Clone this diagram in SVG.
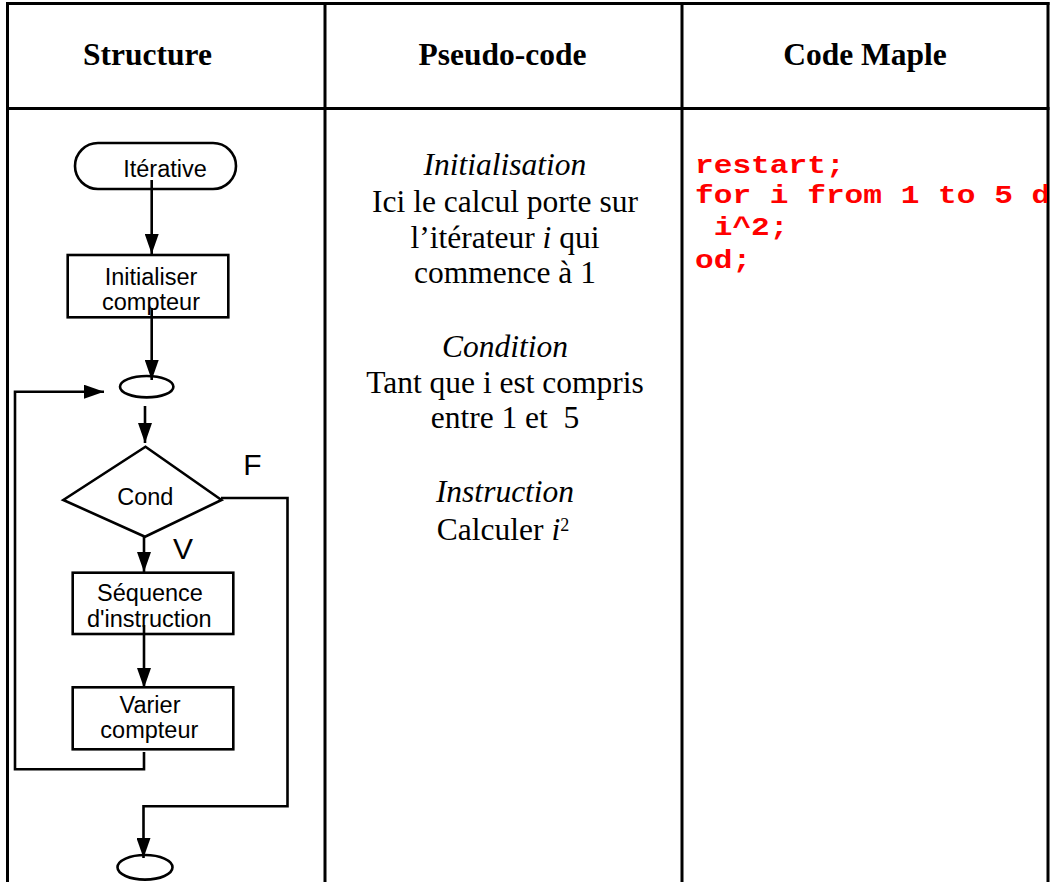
<svg xmlns="http://www.w3.org/2000/svg" width="1050" height="882" viewBox="0 0 1050 882">
<style>
.grid{stroke:#000;stroke-width:3;fill:none}
.shape{stroke:#000;stroke-width:2.6;fill:#fff}
.conn{stroke:#000;stroke-width:2.6;fill:none}
.hd{font-family:"Liberation Serif","Times New Roman",serif;font-weight:bold;font-size:31.5px;text-anchor:middle}
.ps{font-family:"Liberation Serif","Times New Roman",serif;font-size:31.5px;text-anchor:middle}
.it{font-style:italic}
.fc{font-family:"Liberation Sans",Arial,sans-serif;font-size:23.5px;text-anchor:middle}
.lb{font-family:"Liberation Sans",Arial,sans-serif;font-size:30px;text-anchor:middle}
.code{font-family:"Liberation Mono","Courier New",monospace;font-weight:bold;font-size:25px;fill:#ff0000}
</style>
<defs>
<marker id="ah" markerUnits="userSpaceOnUse" markerWidth="20" markerHeight="14" refX="20" refY="7" orient="auto">
<path d="M0,0 L20,7 L0,14 z" fill="#000"/>
</marker>
<clipPath id="cell3"><rect x="683" y="110" width="364" height="772"/></clipPath>
</defs>
<g id="table">
<line class="grid" x1="6" y1="3.5" x2="1049.5" y2="3.5"/>
<line class="grid" x1="6" y1="108.5" x2="1049.5" y2="108.5"/>
<line class="grid" x1="7.5" y1="2" x2="7.5" y2="882"/>
<line class="grid" x1="325" y1="2" x2="325" y2="882"/>
<line class="grid" x1="682" y1="2" x2="682" y2="882"/>
<line class="grid" x1="1048" y1="2" x2="1048" y2="882"/>
<text class="hd" x="147.5" y="65">Structure</text>
<text class="hd" x="502.5" y="65">Pseudo-code</text>
<text class="hd" x="865" y="65">Code Maple</text>
</g>
<g id="pseudocode">
<text class="ps it" x="505" y="175">Initialisation</text>
<text class="ps" x="505" y="211.7">Ici le calcul porte sur</text>
<text class="ps" x="505" y="248.3">l’itérateur <tspan class="it">i</tspan> qui</text>
<text class="ps" x="505" y="283.3">commence à 1</text>
<text class="ps it" x="505" y="356.7">Condition</text>
<text class="ps" x="505" y="393.3">Tant que i est compris</text>
<text class="ps" x="505" y="428.3" xml:space="preserve">entre 1 et  5</text>
<text class="ps it" x="505" y="501.7">Instruction</text>
<text class="ps" x="503" y="540">Calculer <tspan class="it">i</tspan><tspan font-size="18" dy="-9">2</tspan></text>
</g>
<g id="maple" clip-path="url(#cell3)">
<text class="code" x="695" y="172.7" textLength="149.6" lengthAdjust="spacingAndGlyphs">restart;</text>
<text class="code" x="695" y="203.3" textLength="355.3" lengthAdjust="spacingAndGlyphs">for i from 1 to 5 d</text>
<text class="code" x="713.7" y="235" textLength="74.8" lengthAdjust="spacingAndGlyphs">i^2;</text>
<text class="code" x="695" y="268" textLength="56.1" lengthAdjust="spacingAndGlyphs">od;</text>
</g>
<g id="n-iterative">
<rect class="shape" x="75" y="143" width="161" height="46" rx="23" ry="23"/>
<text class="fc" x="165" y="176.7">Itérative</text>
</g>
<g id="n-init">
<rect class="shape" x="67.7" y="255" width="160.6" height="62.3"/>
<text class="fc" x="151" y="285">Initialiser</text>
<text class="fc" x="151" y="310">compteur</text>
</g>
<g id="n-join">
<ellipse class="shape" cx="146.7" cy="386.7" rx="26.7" ry="10.7"/>
</g>
<g id="n-cond">
<polygon class="shape" points="145.5,446.7 221.5,500 145,536.7 63.3,500"/>
<text class="fc" x="145.3" y="505">Cond</text>
</g>
<g id="n-seq">
<rect class="shape" x="72.7" y="572.7" width="160.6" height="61.3"/>
<text class="fc" x="150" y="600.7">Séquence</text>
<text class="fc" x="149.3" y="626.7">d'instruction</text>
</g>
<g id="n-varier">
<rect class="shape" x="72.7" y="687.3" width="160.6" height="62"/>
<text class="fc" x="150" y="713.3">Varier</text>
<text class="fc" x="149.3" y="738.3">compteur</text>
</g>
<g id="n-end">
<ellipse class="shape" cx="145" cy="867.3" rx="27.5" ry="12.3"/>
</g>
<g id="labels">
<text class="lb" x="252.5" y="475">F</text>
<text class="lb" x="183" y="559">V</text>
</g>
<g id="connectors">
<line class="conn" x1="151.7" y1="180" x2="151.7" y2="254" marker-end="url(#ah)"/>
<line class="conn" x1="151.7" y1="308" x2="151.7" y2="380" marker-end="url(#ah)"/>
<line class="conn" x1="145" y1="406" x2="145" y2="443" marker-end="url(#ah)"/>
<line class="conn" x1="144" y1="537" x2="144" y2="572" marker-end="url(#ah)"/>
<line class="conn" x1="144" y1="625" x2="144" y2="688" marker-end="url(#ah)"/>
<path class="conn" d="M144,752 V769.3 H15 V391.7 H104" marker-end="url(#ah)"/>
<path class="conn" d="M221,498 H287.5 V806.3 H143.5 V858" marker-end="url(#ah)"/>
</g>
</svg>
